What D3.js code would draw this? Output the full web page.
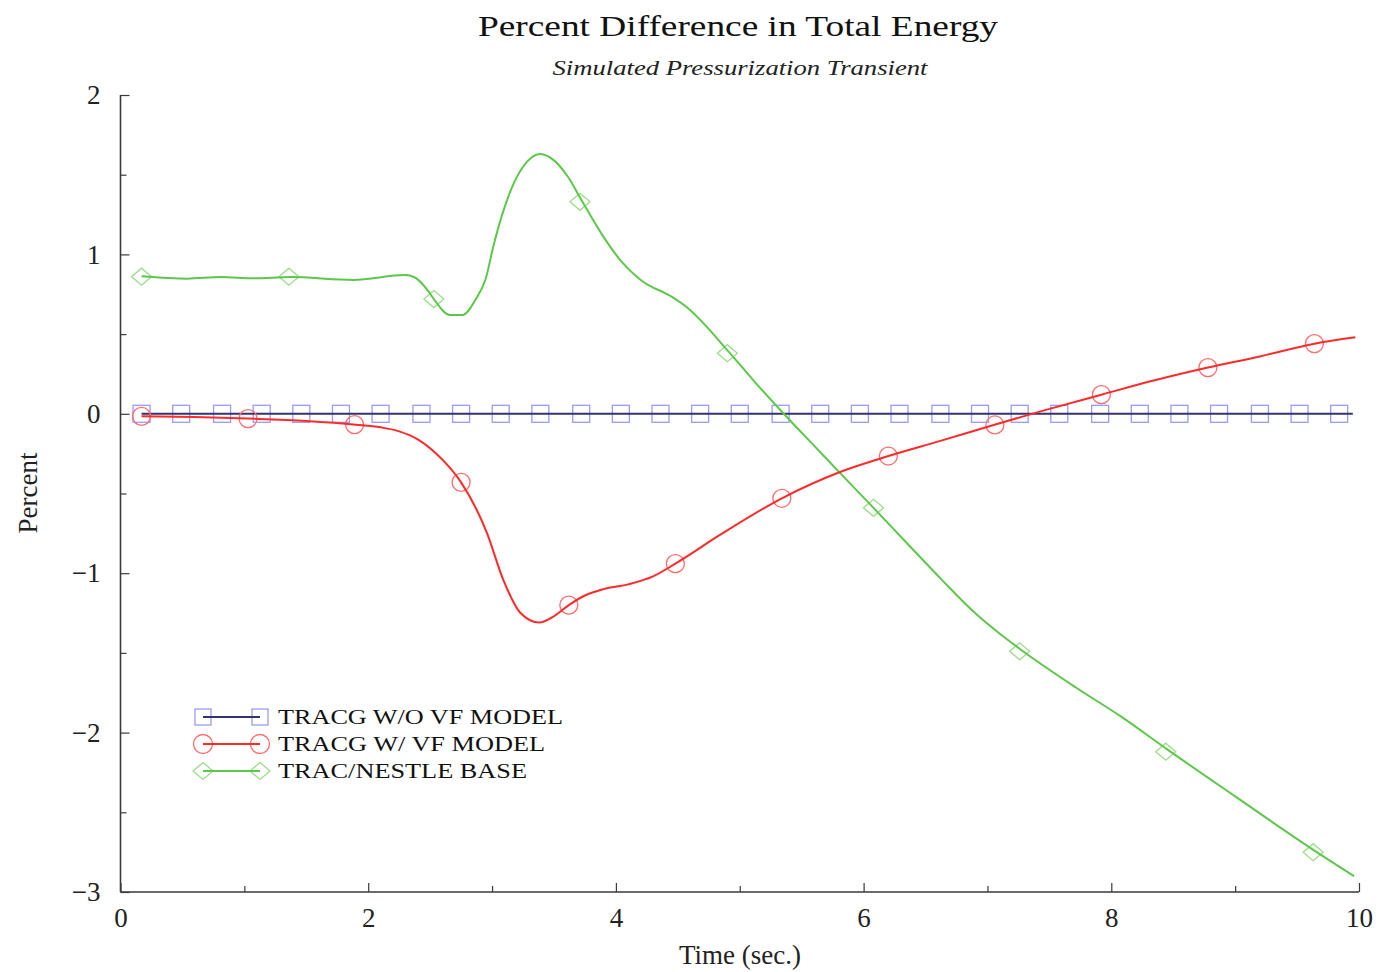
<!DOCTYPE html>
<html>
<head>
<meta charset="utf-8">
<script src="https://cdn.jsdelivr.net/npm/d3@7"></script>
<style>
  html, body { margin: 0; padding: 0; background: #fff; }
  svg { display: block; }
</style>
</head>
<body>
<svg id="chart" width="1385" height="972"></svg>
<script>
// ---- data (time in seconds, percent difference) ----
const blueTimes = [0.17, 9.95];
const blueValues = [0, 0];
const blueMarkerTimes = [0.17, 0.49, 0.82, 1.14, 1.46, 1.78, 2.10, 2.43, 2.75, 3.07, 3.39,
  3.72, 4.04, 4.36, 4.68, 5.00, 5.33, 5.65, 5.97, 6.29, 6.62, 6.94, 7.26, 7.58, 7.91,
  8.23, 8.55, 8.87, 9.20, 9.52, 9.84];
const blueMarkerValues = [0, 0, 0, 0, 0, 0, 0, 0, 0, 0, 0, 0, 0, 0, 0, 0, 0, 0, 0, 0, 0,
  0, 0, 0, 0, 0, 0, 0, 0, 0, 0];

const redTimes = [0.17, 0.6, 1.03, 1.5, 1.9, 2.1, 2.25, 2.4, 2.55, 2.65, 2.75, 2.96, 3.09,
  3.23, 3.38, 3.5, 3.62, 3.75, 3.9, 4.1, 4.3, 4.48, 4.84, 5.34, 5.81, 6.20, 6.62, 7.05, 7.45,
  7.92, 8.35, 8.78, 9.2, 9.64, 9.97];
const redValues = [-0.016, -0.02, -0.03, -0.045, -0.068, -0.085, -0.11, -0.16, -0.25, -0.33,
  -0.43, -0.75, -1.04, -1.25, -1.31, -1.27, -1.20, -1.14, -1.10, -1.07, -1.02, -0.94, -0.76,
  -0.53, -0.365, -0.265, -0.17, -0.07, 0.02, 0.12, 0.21, 0.29, 0.36, 0.44, 0.48];
const redMarkerTimes = [0.17, 1.03, 1.89, 2.75, 3.62, 4.48, 5.34, 6.20, 7.06, 7.92, 8.78, 9.64];
const redMarkerValues = [-0.016, -0.03, -0.068, -0.43, -1.20, -0.94, -0.53, -0.265, -0.07,
  0.12, 0.29, 0.44];

const greenTimes = [0.17, 0.54, 0.81, 1.08, 1.37, 1.88, 2.30, 2.37, 2.48, 2.53, 2.66, 2.76,
  2.87, 2.95, 3.01, 3.15, 3.25, 3.39, 3.50, 3.61, 3.73, 3.90, 4.04, 4.20, 4.46, 4.57, 4.91,
  5.11, 5.38, 5.60, 5.82, 6.08, 6.36, 6.63, 6.90, 7.10, 7.27, 7.72, 8.08, 8.46, 9.00, 9.64,
  9.96];
const greenValues = [0.863, 0.848, 0.858, 0.85, 0.858, 0.84, 0.87, 0.858, 0.775, 0.72, 0.62,
  0.62, 0.72, 0.85, 1.05, 1.40, 1.55, 1.63, 1.59, 1.49, 1.33, 1.11, 0.96, 0.84, 0.73, 0.67,
  0.39, 0.21, -0.02, -0.20, -0.38, -0.59, -0.82, -1.04, -1.25, -1.38, -1.48, -1.72, -1.90,
  -2.11, -2.40, -2.74, -2.90];
const greenMarkerTimes = [0.17, 1.36, 2.53, 3.71, 4.90, 6.08, 7.26, 8.44, 9.63];
const greenMarkerValues = [0.86, 0.86, 0.72, 1.33, 0.38, -0.59, -1.49, -2.12, -2.75];

const seriesNames = ["TRACG W/O VF MODEL", "TRACG W/ VF MODEL", "TRAC/NESTLE BASE"];
const xTickValues = [0, 2, 4, 6, 8, 10];
const yTickValues = [2, 1, 0, -1, -2, -3];
const xMinorTicks = [1, 3, 5, 7, 9];
const yMinorTicks = [1.5, 0.5, -0.5, -1.5, -2.5];

// ---- layout ----
const svg = d3.select("#chart");
const plotLeft = 120.5, plotRight = 1359, plotTop = 95, plotBottom = 892;
const x = d3.scaleLinear().domain([0, 10]).range([plotLeft, plotRight]);
const y = d3.scaleLinear().domain([-3, 2]).range([plotBottom, plotTop]);
const serif = "'Liberation Serif', 'DejaVu Serif', serif";
const axisColor = "#3a3a3a";

// titles
svg.append("text").attr("x", 738).attr("y", 36).attr("text-anchor", "middle")
  .attr("font-family", serif).attr("font-size", 29).attr("fill", "#111")
  .attr("textLength", 520).attr("lengthAdjust", "spacingAndGlyphs")
  .text("Percent Difference in Total Energy");
svg.append("text").attr("x", 740).attr("y", 75).attr("text-anchor", "middle")
  .attr("font-family", serif).attr("font-style", "italic").attr("font-size", 20).attr("fill", "#222")
  .attr("textLength", 375).attr("lengthAdjust", "spacingAndGlyphs")
  .text("Simulated Pressurization Transient");

// axes with inward ticks
const gx = svg.append("g").attr("transform", `translate(0,${plotBottom})`)
  .call(d3.axisBottom(x).tickValues(xTickValues).tickSize(-9).tickPadding(16)
    .tickFormat(d3.format("d")));
const gxm = svg.append("g").attr("transform", `translate(0,${plotBottom})`)
  .call(d3.axisBottom(x).tickValues(xMinorTicks).tickSize(-6).tickFormat(""));
const gy = svg.append("g").attr("transform", `translate(${plotLeft},0)`)
  .call(d3.axisLeft(y).tickValues(yTickValues).tickSize(-9).tickPadding(20)
    .tickFormat(d => d < 0 ? "\u2212" + Math.abs(d) : String(d)));
const gym = svg.append("g").attr("transform", `translate(${plotLeft},0)`)
  .call(d3.axisLeft(y).tickValues(yMinorTicks).tickSize(-6).tickFormat(""));

[gx, gxm, gy, gym].forEach(g => {
  g.selectAll(".domain").attr("stroke", axisColor).attr("stroke-width", 1.6);
  g.selectAll(".tick line").attr("stroke", axisColor).attr("stroke-width", 1.2);
  g.selectAll(".tick text").attr("font-family", serif).attr("font-size", 27).attr("fill", "#222");
});
gy.select(".domain").attr("d", `M0,${plotTop}V${plotBottom}`);
gx.select(".domain").attr("d", `M${plotLeft},0H${plotRight}`);
gym.select(".domain").remove();
gxm.select(".domain").remove();

// axis titles
svg.append("text").attr("x", 740).attr("y", 964).attr("text-anchor", "middle")
  .attr("font-family", serif).attr("font-size", 27).attr("fill", "#222")
  .text("Time (sec.)");
svg.append("text").attr("transform", "translate(37,493) rotate(-90)").attr("text-anchor", "middle")
  .attr("font-family", serif).attr("font-size", 27).attr("fill", "#222")
  .text("Percent");

// ---- series ----
const line = d3.line().x(d => x(d[0])).y(d => y(d[1])).curve(d3.curveMonotoneX);
const zip = (a, b) => a.map((t, i) => [t, b[i]]);

const plot = svg.append("g");

function squares(g, pts, color, s) {
  g.selectAll(null).data(pts).enter().append("rect")
    .attr("x", d => x(d[0]) - s / 2).attr("y", d => y(d[1]) - s / 2)
    .attr("width", s).attr("height", s)
    .attr("fill", "none").attr("stroke", color).attr("stroke-width", 1.3);
}
function circles(g, pts, color, r) {
  g.selectAll(null).data(pts).enter().append("circle")
    .attr("cx", d => x(d[0])).attr("cy", d => y(d[1])).attr("r", r)
    .attr("fill", "none").attr("stroke", color).attr("stroke-width", 1.3);
}
function diamonds(g, pts, color, s) {
  g.selectAll(null).data(pts).enter().append("path")
    .attr("d", d => {
      const cx = x(d[0]), cy = y(d[1]);
      return `M${cx - s},${cy}L${cx},${cy - s * 0.85}L${cx + s},${cy}L${cx},${cy + s * 0.85}Z`;
    })
    .attr("fill", "none").attr("stroke", color).attr("stroke-width", 1.3);
}

const blueLine = "#33336e", blueMark = "#9a9aff";
const redLine = "#ff2a2a", redMark = "#ff6e6e";
const greenLine = "#5cc84a", greenMark = "#9ddc8c";

// blue series
squares(plot, zip(blueMarkerTimes, blueMarkerValues), blueMark, 17);
plot.append("path").datum(zip(blueTimes, blueValues)).attr("d", line)
  .attr("fill", "none").attr("stroke", blueLine).attr("stroke-width", 2);

// green series
diamonds(plot, zip(greenMarkerTimes, greenMarkerValues), greenMark, 10);
plot.append("path").datum(zip(greenTimes, greenValues)).attr("d", line)
  .attr("fill", "none").attr("stroke", greenLine).attr("stroke-width", 2);

// red series
circles(plot, zip(redMarkerTimes, redMarkerValues), redMark, 9);
plot.append("path").datum(zip(redTimes, redValues)).attr("d", line)
  .attr("fill", "none").attr("stroke", redLine).attr("stroke-width", 2);

// ---- legend ----
const legendRows = [717, 744, 771];
const legendWidths = [285, 267, 249];
const lg = svg.append("g");
const lx0 = 203, lx1 = 260;
[[blueLine, blueMark, "sq"], [redLine, redMark, "ci"], [greenLine, greenMark, "di"]].forEach((s, i) => {
  const yy = legendRows[i];
  const ends = [lx0, lx1].map(px => [x.invert(px), y.invert(yy)]);
  if (s[2] === "sq") squares(lg, ends, s[1], 16);
  if (s[2] === "ci") circles(lg, ends, s[1], 9.5);
  if (s[2] === "di") diamonds(lg, ends, s[1], 10);
  lg.append("line").attr("x1", lx0).attr("x2", lx1).attr("y1", yy).attr("y2", yy)
    .attr("stroke", s[0]).attr("stroke-width", 2);
  lg.append("text").attr("x", 278).attr("y", yy + 7)
    .attr("font-family", serif).attr("font-size", 20).attr("fill", "#111")
    .attr("textLength", legendWidths[i]).attr("lengthAdjust", "spacingAndGlyphs")
    .text(seriesNames[i]);
});
</script>
</body>
</html>
